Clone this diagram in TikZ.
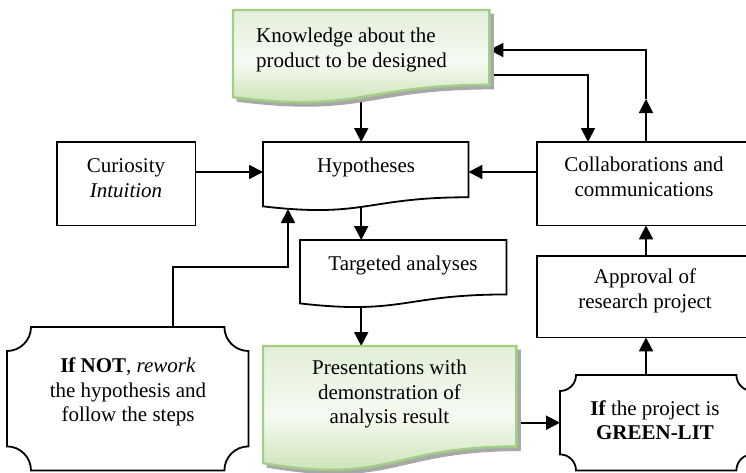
\documentclass[tikz,border=0pt]{standalone}
\usepackage{fontspec}
\setmainfont{Liberation Serif}
\usetikzlibrary{calc,arrows.meta}

\pgfdeclarelayer{wires}
\pgfdeclarelayer{shapes}
\pgfsetlayers{wires,shapes,main}

\definecolor{gTop}{HTML}{E2EFD8}
\definecolor{gMid}{HTML}{F6FAF2}
\definecolor{gBot}{HTML}{C2DEAA}
\definecolor{gEdge}{HTML}{A3CE86}
\definecolor{shadowgray}{HTML}{A8A8A8}

\tikzset{
  geom/.style={draw=none, inner sep=0pt, anchor=north west},
  txt/.style={font=\fontsize{21}{24.5}\selectfont, align=center, inner sep=0pt},
  conn/.style={line width=1.8pt, -{Triangle[length=14pt,width=14pt]}},
  outline/.style={draw=black, line width=1.8pt, fill=white},
  greenfill/.style={draw=gEdge, line width=2.4pt, top color=gTop, bottom color=gBot, middle color=gMid},
  shadowfill/.style={fill=shadowgray, draw=shadowgray, line width=1pt},
}

% flowchart "document" outline (wavy bottom) over the frame of node #2, moved by #3
\newcommand\docpath[3]{%
  \path[#1] let \p1=($(#2.north west)+(#3)$), \p2=($(#2.south east)+(#3)$), \n1={\y1-\y2} in
    (\p1) -- (\x2,\y1) -- (\x2,{\y1-0.802*\n1})
    .. controls ({(\x1+\x2)/2},{\y1-0.802*\n1}) and ({(\x1+\x2)/2},{\y1-1.1075*\n1}) ..
    (\x1,{\y1-0.934*\n1}) -- cycle;}

% plaque outline (concave corners of radius #3) over the frame of node #2
\newcommand\plaquepath[3]{%
  \path[#1] let \p1=(#2.north west), \p2=(#2.south east), \n1={#3}, \n2={0.5523*#3} in
    (\x1,{\y1-\n1}) .. controls ({\x1+\n2},{\y1-\n1}) and ({\x1+\n1},{\y1-\n2}) .. ({\x1+\n1},\y1)
    -- ({\x2-\n1},\y1) .. controls ({\x2-\n1},{\y1-\n2}) and ({\x2-\n2},{\y1-\n1}) .. (\x2,{\y1-\n1})
    -- (\x2,{\y2+\n1}) .. controls ({\x2-\n2},{\y2+\n1}) and ({\x2-\n1},{\y2+\n2}) .. ({\x2-\n1},\y2)
    -- ({\x1+\n1},\y2) .. controls ({\x1+\n1},{\y2+\n2}) and ({\x1+\n2},{\y2+\n1}) .. (\x1,{\y2+\n1})
    -- cycle;}

\begin{document}
\begin{tikzpicture}[x=1pt,y=-1pt]
\useasboundingbox (0,0) rectangle (746,472);

% frames of the boxes
\node[geom, minimum width=256pt, minimum height=93pt]   (know)   at (233,10)  {};
\node[geom, minimum width=205pt, minimum height=68.5pt] (hyp)    at (263,142) {};
\node[geom, minimum width=138pt, minimum height=83pt]   (curio)  at (57,142)  {};
\node[geom, minimum width=215pt, minimum height=83pt]   (collab) at (537,142) {};
\node[geom, minimum width=206pt, minimum height=67.5pt] (targ)   at (300,240) {};
\node[geom, minimum width=215pt, minimum height=81pt]   (appr)   at (537,256) {};
\node[geom, minimum width=253pt, minimum height=125pt]  (pres)   at (263,346) {};
\node[geom, minimum width=241pt, minimum height=143pt]  (ifnot)  at (7,327)   {};
\node[geom, minimum width=192pt, minimum height=95pt]   (gl)     at (560,375) {};

% texts
\node[txt, align=left] (know-t) at (351.5,50) {Knowledge about the\\product to be designed};
\node[txt] (hyp-t)    at (366,167)   {Hypotheses};
\node[txt] (curio-t)  at (126,178)   {Curiosity\\\textit{Intuition}};
\node[txt] (collab-t) at (644,177)   {Collaborations and\\communications};
\node[txt] (targ-t)   at (403,265)   {Targeted analyses};
\node[txt] (appr-t)   at (645,291)   {Approval of\\research project};
\node[txt] (pres-t)   at (389.5,394) {Presentations with\\demonstration of\\analysis result};
\node[txt] (ifnot-t)  at (128,392)   {\textbf{If NOT}, \textit{rework}\\the hypothesis and\\follow the steps};
\node[txt] (gl-t)     at (655,420)   {\textbf{If} the project is\\\textbf{GREEN-LIT}};

% outlines
\begin{pgfonlayer}{shapes}
  \docpath{shadowfill}{know}{4,4}
  \docpath{shadowfill}{pres}{4,4}
  \docpath{greenfill}{know}{0,0}
  \docpath{greenfill}{pres}{0,0}
  \docpath{outline}{hyp}{0,0}
  \docpath{outline}{targ}{0,0}
  \path[outline] (curio.north west) rectangle (curio.south east);
  \path[outline] (collab.north west) rectangle (collab.south east);
  \path[outline] (appr.north west) rectangle (appr.south east);
  \plaquepath{outline}{ifnot}{24}
  \plaquepath{outline}{gl}{16}
\end{pgfonlayer}

% connectors
\coordinate (lvl)    at (0,172);
\coordinate (toplvl) at (0,50);
\coordinate (klvl)   at (0,75);
\coordinate (midtip) at (0,99);
\coordinate (xr)     at (646,0);
\coordinate (xk)     at (588,0);
\coordinate (loopbend) at (173,267);
\coordinate (loopcorner) at (288,267);
\coordinate (hypin)  at (288,209);

\begin{pgfonlayer}{wires}
  \draw[conn] (know.center) -- (know.center |- hyp.north);
  \draw[conn] (curio.east |- lvl) -- (hyp.west |- lvl);
  \draw[conn] (collab.west |- lvl) -- (hyp.east |- lvl);
  \draw[conn] (know.center |- hyp.center) -- (know.center |- targ.north);
  \draw[conn] (know.center |- targ.center) -- (know.center |- pres.north);
  \draw[conn] (pres.east |- gl.west) -- (gl.west);
  \draw[conn] (xr |- gl.north) -- (xr |- appr.south);
  \draw[conn] (xr |- appr.north) -- (xr |- collab.south);
  \draw[conn] (xr |- collab.north) -- (xr |- midtip);
  \draw[conn] (xr |- midtip) -- (xr |- toplvl) -- (know.east |- toplvl);
  \draw[conn] (know.center |- klvl) -- (xk |- klvl) -- (xk |- collab.north);
  \draw[conn] (loopbend |- ifnot.north) -- (loopbend) -- (loopcorner) -- (hypin);
\end{pgfonlayer}
\end{tikzpicture}
\end{document}
